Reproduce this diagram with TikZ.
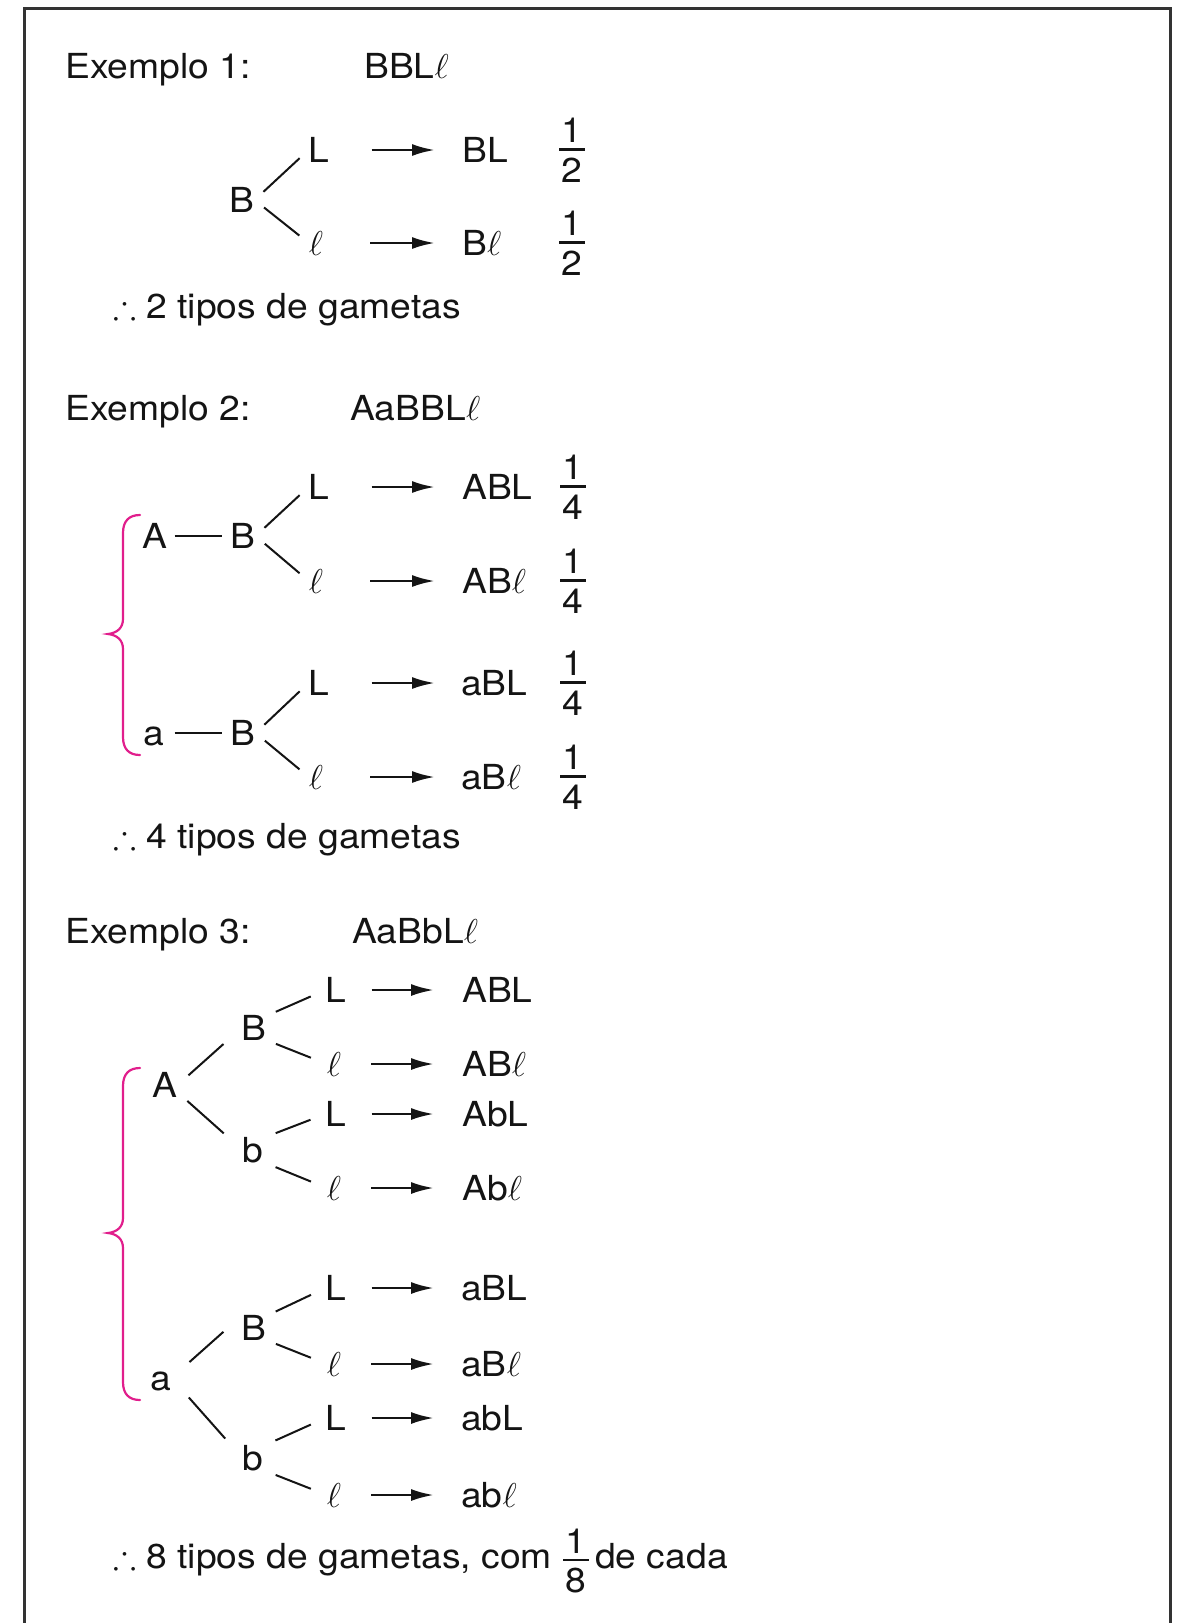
\documentclass[tikz,border=0pt]{standalone}
\usepackage{fix-cm}
\usepackage{amssymb}
\usepackage{fontspec}
\setmainfont{TeX Gyre Heros}[FakeStretch=1.08]
\usetikzlibrary{arrows.meta}
\definecolor{brc}{RGB}{225,30,140}
\definecolor{ink}{RGB}{20,20,20}
\newcommand\gfrac[2]{\vbox{\offinterlineskip\halign{\hfil##\hfil\cr\hbox{#1}\cr\noalign{\kern6pt}\rule{26pt}{2.2pt}\cr\noalign{\kern7pt}\hbox{#2}\cr}}}
\begin{document}
\begin{tikzpicture}[x=1pt,y=-1pt,
  font=\fontsize{34.5}{41}\selectfont,
  every node/.style={text=ink},
  txt/.style={inner sep=0pt, anchor=base west},
  lt/.style={inner sep=0pt, text height=24pt, text depth=0pt},
  res/.style={inner sep=0pt, text height=24pt, text depth=0pt, anchor=west},
  fr/.style={inner sep=0pt},
  br/.style={line width=2pt, draw=ink},
  arr/.style={line width=2.7pt, draw=ink, -{Latex[length=23pt,width=12pt]}},
  bracestyle/.style={line width=2.2pt, draw=brc, line cap=round},
  framestyle/.style={line width=3pt, draw=black!80}]
\useasboundingbox (0,0) rectangle (1180,1623);
\draw[framestyle] (24.5,1630) -- (24.5,8.5) -- (1170.5,8.5) -- (1170.5,1630);

% ---------------- Example 1
\node[txt] (t1) at (65,78) {Exemplo 1:};
\node[txt] (g1) at (364,78) {BBL$\ell$};
\node[lt] (e1B) at (242,200) {B};
\node[lt] (e1L) at (319,150) {L};
\node[lt] (e1l) at (316,243) {$\ell$};
\node[res] (e1r1) at (462,150) {BL};
\node[res] (e1r2) at (462,243) {B$\ell$};
\node[fr] (e1f1) at (572,150) {\gfrac{1}{2}};
\node[fr] (e1f2) at (572,243) {\gfrac{1}{2}};
\draw[br, shorten <=12pt, shorten >=12pt] (e1B.east) -- (e1L.west);
\draw[br, shorten <=12pt, shorten >=12pt] (e1B.east) -- (e1l.west);
\draw[arr, shorten <=42pt, shorten >=27pt] (e1L.east) -- (e1r1.west);
\draw[arr, shorten <=47pt, shorten >=27pt] (e1l.east) -- (e1r2.west);
\node[txt] (c1) at (113,318) {$\therefore$ 2 tipos de gametas};

% ---------------- Example 2
\node[txt] (t2) at (65,420) {Exemplo 2:};
\node[txt] (g2) at (350,420) {AaBBL$\ell$};
\node[lt] (e2A) at (155,536) {A};
\node[lt] (e2B1) at (243,536) {B};
\node[lt] (e2L1) at (319,487) {L};
\node[lt] (e2l1) at (316,581) {$\ell$};
\node[res] (e2r1) at (462,487) {ABL};
\node[res] (e2r2) at (462,581) {AB$\ell$};
\node[fr] (e2f1) at (573,487) {\gfrac{1}{4}};
\node[fr] (e2f2) at (573,581) {\gfrac{1}{4}};
\node[lt] (e2a) at (154,733) {a};
\node[lt] (e2B2) at (243,733) {B};
\node[lt] (e2L2) at (319,683) {L};
\node[lt] (e2l2) at (316,777) {$\ell$};
\node[res] (e2r3) at (461,683) {aBL};
\node[res] (e2r4) at (461,777) {aB$\ell$};
\node[fr] (e2f3) at (573,683) {\gfrac{1}{4}};
\node[fr] (e2f4) at (573,777) {\gfrac{1}{4}};
\draw[br, shorten <=7pt, shorten >=8pt] (e2A.east) -- (e2B1.west);
\draw[br, shorten <=10pt, shorten >=8pt] (e2a.east) -- (e2B2.west);
\draw[br, shorten <=12pt, shorten >=12pt] (e2B1.east) -- (e2L1.west);
\draw[br, shorten <=12pt, shorten >=12pt] (e2B1.east) -- (e2l1.west);
\draw[br, shorten <=12pt, shorten >=12pt] (e2B2.east) -- (e2L2.west);
\draw[br, shorten <=12pt, shorten >=12pt] (e2B2.east) -- (e2l2.west);
\draw[arr, shorten <=42pt, shorten >=27pt] (e2L1.east) -- (e2r1.west);
\draw[arr, shorten <=47pt, shorten >=27pt] (e2l1.east) -- (e2r2.west);
\draw[arr, shorten <=42pt, shorten >=26pt] (e2L2.east) -- (e2r3.west);
\draw[arr, shorten <=47pt, shorten >=26pt] (e2l2.east) -- (e2r4.west);
\draw[bracestyle] (140,515) .. controls (129,515) and (123,521) .. (123,533) -- (123,619)
  .. controls (123,628) and (117,633) .. (108,634)
  .. controls (117,635) and (123,640) .. (123,649) -- (123,737)
  .. controls (123,749) and (129,755) .. (140,755);
\node[txt] (c2) at (113,848) {$\therefore$ 4 tipos de gametas};

% ---------------- Example 3
\node[txt] (t3) at (65,943) {Exemplo 3:};
\node[txt] (g3) at (352,943) {AaBbL$\ell$};
\node[lt] (e3A) at (165,1085) {A};
\node[lt] (e3B1) at (254,1028) {B};
\node[lt] (e3b1) at (253,1150) {b};
\node[lt] (e3L1) at (336,990) {L};
\node[lt] (e3l1) at (334,1064) {$\ell$};
\node[lt] (e3L2) at (336,1114) {L};
\node[lt] (e3l2) at (334,1188) {$\ell$};
\node[res] (e3r1) at (462,990) {ABL};
\node[res] (e3r2) at (462,1064) {AB$\ell$};
\node[res] (e3r3) at (462,1114) {AbL};
\node[res] (e3r4) at (462,1188) {Ab$\ell$};
\node[lt] (e3a) at (161,1378) {a};
\node[lt] (e3B2) at (254,1328) {B};
\node[lt] (e3b2) at (253,1458) {b};
\node[lt] (e3L3) at (336,1288) {L};
\node[lt] (e3l3) at (334,1364) {$\ell$};
\node[lt] (e3L4) at (336,1418) {L};
\node[lt] (e3l4) at (334,1495) {$\ell$};
\node[res] (e3r5) at (461,1288) {aBL};
\node[res] (e3r6) at (461,1364) {aB$\ell$};
\node[res] (e3r7) at (461,1418) {abL};
\node[res] (e3r8) at (461,1495) {ab$\ell$};
% branches upper
\draw[br, shorten <=14.5pt, shorten >=24pt] (e3A.east) -- (e3B1.west);
\draw[br, shorten <=13pt, shorten >=25pt] (e3A.-30) -- (e3b1.west);
\draw[br, shorten <=10pt, shorten >=16pt] (e3B1.north east) -- (e3L1.west);
\draw[br, shorten <=10pt, shorten >=17pt] (e3B1.south east) -- (e3l1.west);
\draw[br, shorten <=13pt, shorten >=16pt] (e3b1.north east) -- (e3L2.west);
\draw[br, shorten <=13pt, shorten >=17pt] (e3b1.south east) -- (e3l2.west);
% branches lower
\draw[br, shorten <=24pt, shorten >=24pt] (e3a.east) -- (e3B2.north west);
\draw[br, shorten <=26pt, shorten >=26pt] (e3a.east) -- (e3b2.west);
\draw[br, shorten <=10pt, shorten >=16pt] (e3B2.north east) -- (e3L3.west);
\draw[br, shorten <=10pt, shorten >=17pt] (e3B2.south east) -- (e3l3.west);
\draw[br, shorten <=13pt, shorten >=16pt] (e3b2.north east) -- (e3L4.west);
\draw[br, shorten <=13pt, shorten >=17pt] (e3b2.south east) -- (e3l4.west);
% arrows
\draw[arr, shorten <=25pt, shorten >=28pt] (e3L1.east) -- (e3r1.west);
\draw[arr, shorten <=30pt, shorten >=28pt] (e3l1.east) -- (e3r2.west);
\draw[arr, shorten <=25pt, shorten >=28pt] (e3L2.east) -- (e3r3.west);
\draw[arr, shorten <=30pt, shorten >=28pt] (e3l2.east) -- (e3r4.west);
\draw[arr, shorten <=25pt, shorten >=27pt] (e3L3.east) -- (e3r5.west);
\draw[arr, shorten <=30pt, shorten >=27pt] (e3l3.east) -- (e3r6.west);
\draw[arr, shorten <=25pt, shorten >=27pt] (e3L4.east) -- (e3r7.west);
\draw[arr, shorten <=30pt, shorten >=27pt] (e3l4.east) -- (e3r8.west);
\draw[bracestyle] (140,1068) .. controls (129,1068) and (123,1074) .. (123,1086) -- (123,1218)
  .. controls (123,1227) and (117,1232) .. (108,1233)
  .. controls (117,1234) and (123,1239) .. (123,1248) -- (123,1382)
  .. controls (123,1394) and (129,1400) .. (140,1400);
\node[txt] (c3) at (113,1568) {$\therefore$ 8 tipos de gametas, com};
\node[fr] (c3f) at (576,1561) {\gfrac{1}{8}};
\node[txt] (c3b) at (595,1568) {de cada};
\end{tikzpicture}
\end{document}
